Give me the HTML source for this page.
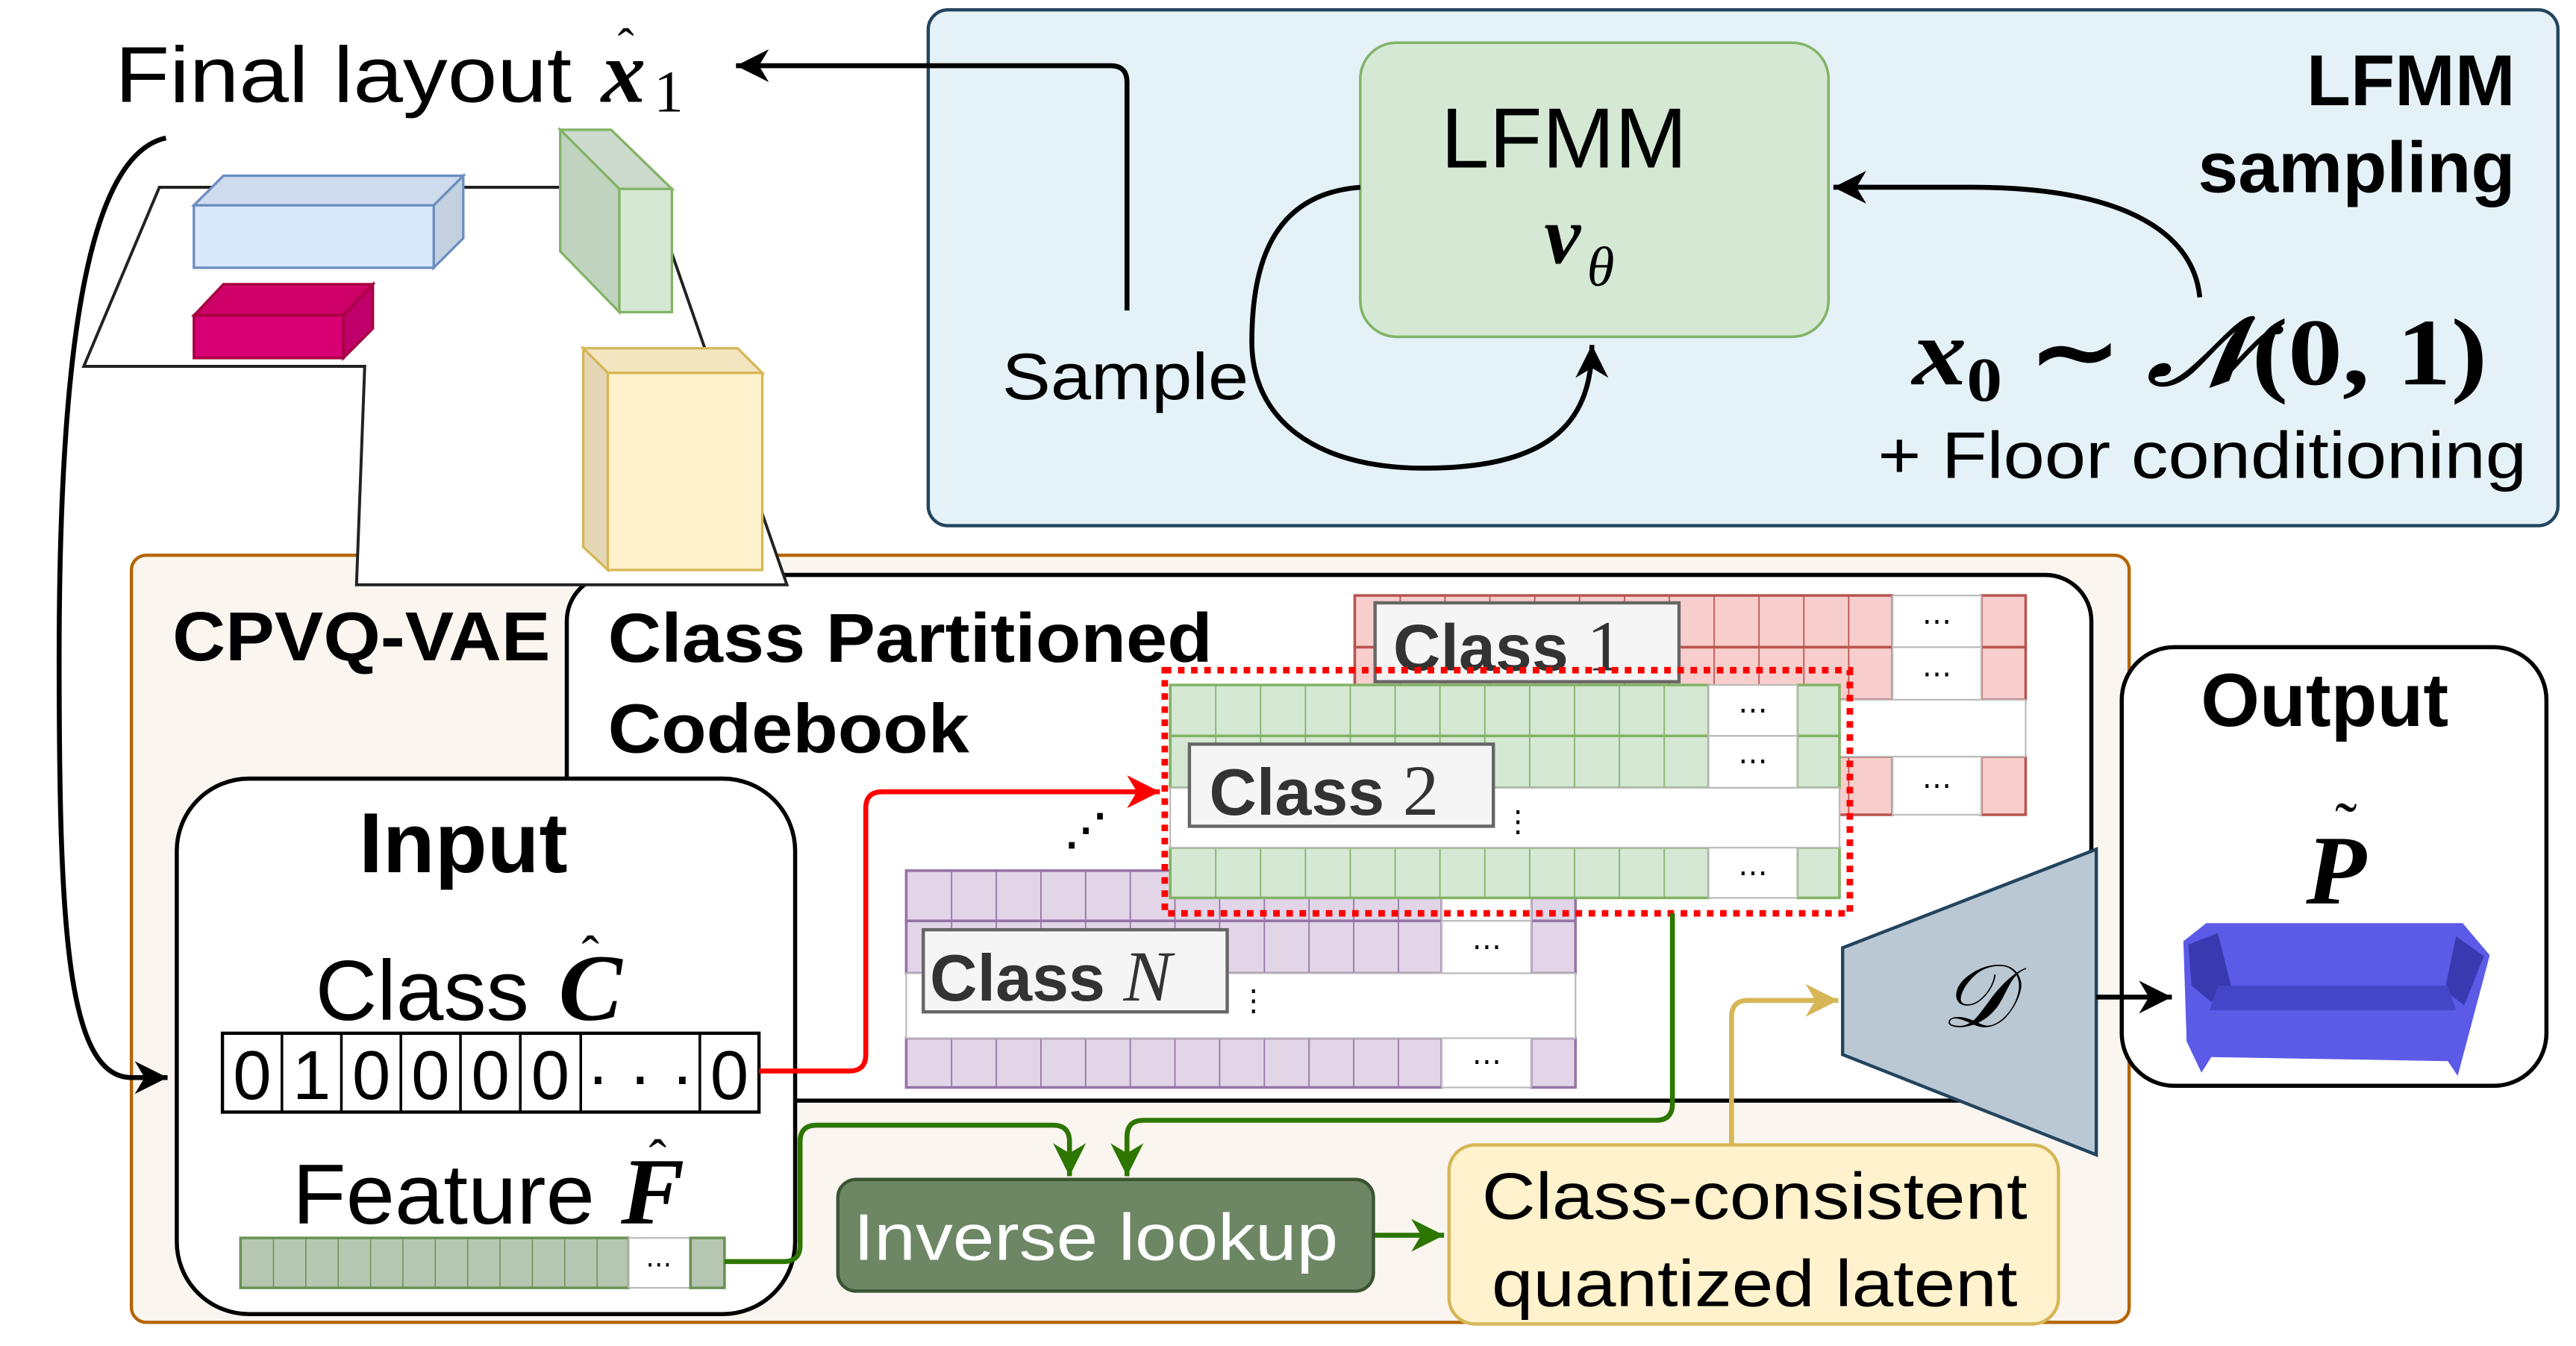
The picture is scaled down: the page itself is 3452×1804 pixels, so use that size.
<!DOCTYPE html>
<html><head><meta charset="utf-8"><style>html,body{margin:0;padding:0;background:#fff}svg{display:block}</style></head>
<body>
<svg width="3452" height="1804" viewBox="0 0 1568 819.4" preserveAspectRatio="none" xmlns="http://www.w3.org/2000/svg" font-family="'Liberation Sans', sans-serif">
<defs>
<marker id="ab" markerUnits="userSpaceOnUse" markerWidth="30" markerHeight="30" refX="20" refY="10" orient="auto"><path d="M0,0 L20,10 L0,20 L6,10 Z" fill="#000"/></marker>
<marker id="ar" markerUnits="userSpaceOnUse" markerWidth="30" markerHeight="30" refX="20" refY="10" orient="auto"><path d="M0,0 L20,10 L0,20 L6,10 Z" fill="#f00"/></marker>
<marker id="ag" markerUnits="userSpaceOnUse" markerWidth="30" markerHeight="30" refX="20" refY="10" orient="auto"><path d="M0,0 L20,10 L0,20 L6,10 Z" fill="#2d7600"/></marker>
<marker id="ay" markerUnits="userSpaceOnUse" markerWidth="30" markerHeight="30" refX="20" refY="10" orient="auto"><path d="M0,0 L20,10 L0,20 L6,10 Z" fill="#d6b656"/></marker>
<pattern id="pr" patternUnits="userSpaceOnUse" x="824.6" y="0" width="27.3" height="200"><rect width="27.3" height="200" fill="#f8cecc"/><line x1="0" y1="0" x2="0" y2="200" stroke="#b85450" stroke-width="1.6"/></pattern>
<pattern id="pg" patternUnits="userSpaceOnUse" x="712.3" y="0" width="27.3" height="200"><rect width="27.3" height="200" fill="#d5e8d4"/><line x1="0" y1="0" x2="0" y2="200" stroke="#82b366" stroke-width="1.6"/></pattern>
<pattern id="pp" patternUnits="userSpaceOnUse" x="551.6" y="0" width="27.2" height="200"><rect width="27.2" height="200" fill="#e1d5e7"/><line x1="0" y1="0" x2="0" y2="200" stroke="#9673a6" stroke-width="1.6"/></pattern>
<pattern id="pf" patternUnits="userSpaceOnUse" x="146.4" y="0" width="19.7" height="200"><rect width="19.7" height="200" fill="#b5c7b1"/><line x1="0" y1="0" x2="0" y2="200" stroke="#6a9153" stroke-width="1.4"/></pattern>
</defs>

<rect x="565" y="6" width="992" height="314" rx="12" fill="#e4f1f6" stroke="#23445d" stroke-width="2"/>
<rect x="828" y="26" width="285" height="179" rx="22" fill="#d5e8d4" stroke="#82b366" stroke-width="1.6"/>
<text x="877" y="102" font-size="52" textLength="150" lengthAdjust="spacingAndGlyphs">LFMM</text>
<text x="940" y="160" font-family="'Liberation Serif', serif" font-size="50" font-style="italic" font-weight="bold">v</text>
<text x="966" y="174" font-family="'Liberation Serif', serif" font-size="34" font-style="italic">θ</text>
<text x="1531" y="64" font-size="44" font-weight="bold" text-anchor="end">LFMM</text>
<text x="1531" y="117" font-size="44" font-weight="bold" text-anchor="end">sampling</text>
<text x="1164" y="234" font-family="'Liberation Serif', serif" font-size="58" font-weight="bold" textLength="350" lengthAdjust="spacingAndGlyphs"><tspan font-style="italic">x</tspan><tspan font-size="38" dy="10">0</tspan><tspan dy="-10"> ∼ </tspan><tspan font-style="italic">𝒩</tspan>(0, 1)</text>
<text x="1143" y="291" font-size="40" textLength="395" lengthAdjust="spacingAndGlyphs">+ Floor conditioning</text>
<text x="610" y="243" font-size="40" textLength="150" lengthAdjust="spacingAndGlyphs">Sample</text>
<path d="M828,114 C775,118 762,160 762,208 C762,255 800,285 867,285 C940,285 969,260 969,210" fill="none" stroke="#000" stroke-width="3" marker-end="url(#ab)"/>
<path d="M1339,181 C1335,140 1290,114 1200,114 L1116,114" fill="none" stroke="#000" stroke-width="3" marker-end="url(#ab)"/>
<path d="M686,189 L686,50 Q686,40 676,40 L448,40" fill="none" stroke="#000" stroke-width="3" marker-end="url(#ab)"/>

<text x="70" y="62" font-size="48" textLength="278" lengthAdjust="spacingAndGlyphs">Final layout</text>
<text x="366" y="62" font-family="'Liberation Serif', serif" font-size="54" font-weight="bold" font-style="italic">x</text>
<text x="376" y="38" font-family="'Liberation Serif', serif" font-size="30">ˆ</text>
<text x="398" y="68" font-family="'Liberation Serif', serif" font-size="36">1</text>

<rect x="80" y="338" width="1216" height="467" rx="9" fill="#faf5ef" stroke="#b46504" stroke-width="2"/>
<text x="105" y="402" font-size="42" font-weight="bold" textLength="230" lengthAdjust="spacingAndGlyphs">CPVQ-VAE</text>

<rect x="345" y="350" width="928" height="320" rx="28" fill="#fff" stroke="#000" stroke-width="2.5"/>
<text x="370" y="403" font-size="42" font-weight="bold" textLength="368" lengthAdjust="spacingAndGlyphs">Class Partitioned</text>
<text x="370" y="458" font-size="42" font-weight="bold" textLength="220" lengthAdjust="spacingAndGlyphs">Codebook</text>

<path d="M101,84 C50,95 36,230 36,400 C36,560 40,656 80,656 L102,656" fill="none" stroke="#000" stroke-width="3" marker-end="url(#ab)"/>

<polygon points="97,114 395,114 479,356 217,356 222,223 51,223" fill="#fff" stroke="#222" stroke-width="1.8"/>
<polygon points="118,125 136,107 282,107 264,125" fill="#cfdcee" stroke="#6c8ebf" stroke-width="1.5"/>
<polygon points="264,125 282,107 282,145 264,163" fill="#c3d0e0" stroke="#6c8ebf" stroke-width="1.5"/>
<rect x="118" y="125" width="146" height="38" fill="#dae8fc" stroke="#6c8ebf" stroke-width="1.5"/>
<polygon points="118,192 136,173 227,173 209,192" fill="#cc0066" stroke="#a50040" stroke-width="1.5"/>
<polygon points="209,192 227,173 227,200 209,218" fill="#c0006a" stroke="#a50040" stroke-width="1.5"/>
<rect x="118" y="192" width="91" height="26" fill="#d80073" stroke="#a50040" stroke-width="1.5"/>
<polygon points="341,79 372,79 409,115 377,115" fill="#cddbcc" stroke="#82b366" stroke-width="1.5"/>
<polygon points="341,79 377,115 377,190 341,153" fill="#c0d3bf" stroke="#82b366" stroke-width="1.5"/>
<rect x="377" y="115" width="32" height="75" fill="#d5e8d4" stroke="#82b366" stroke-width="1.5"/>
<polygon points="355,212 449,212 464,227 370,227" fill="#f2e5c0" stroke="#d6b656" stroke-width="1.5"/>
<polygon points="355,212 370,227 370,347 355,333" fill="#e3d7b5" stroke="#d6b656" stroke-width="1.5"/>
<rect x="370" y="227" width="94" height="120" fill="#fff2cc" stroke="#d6b656" stroke-width="1.5"/>

<g stroke="#b85450" stroke-width="1.6">
<rect x="824.6" y="362.5" width="327.4" height="31.5" fill="url(#pr)"/>
<rect x="824.6" y="394" width="327.4" height="32" fill="url(#pr)"/>
<rect x="824.6" y="460.6" width="327.4" height="35.4" fill="url(#pr)"/>
<rect x="1206" y="362.5" width="27" height="31.5" fill="#f8cecc"/>
<rect x="1206" y="394" width="27" height="32" fill="#f8cecc"/>
<rect x="1206" y="460.6" width="27" height="35.4" fill="#f8cecc"/>
</g>
<g fill="#fff" stroke="#bbb" stroke-width="1">
<rect x="1152" y="362.5" width="54" height="31.5"/><rect x="1152" y="394" width="54" height="32"/><rect x="1152" y="460.6" width="54" height="35.4"/>
<rect x="824.6" y="426" width="408.4" height="34.6"/>
</g>
<g font-size="18" text-anchor="middle"><text x="1179" y="384">⋯</text><text x="1179" y="416">⋯</text><text x="1179" y="484">⋯</text></g>
<rect x="837" y="367" width="185" height="48" fill="#f5f5f5" stroke="#666" stroke-width="2"/>
<text x="848" y="408" font-size="40" font-weight="bold" fill="#333">Class <tspan font-family="'Liberation Serif', serif" font-weight="normal" font-size="44">1</tspan></text>

<g stroke="#9673a6" stroke-width="1.6">
<rect x="551.6" y="530" width="326" height="30.6" fill="url(#pp)"/>
<rect x="551.6" y="560.6" width="326" height="31.9" fill="url(#pp)"/>
<rect x="551.6" y="632" width="326" height="30" fill="url(#pp)"/>
<rect x="932" y="530" width="27" height="30.6" fill="#e1d5e7"/>
<rect x="932" y="560.6" width="27" height="31.9" fill="#e1d5e7"/>
<rect x="932" y="632" width="27" height="30" fill="#e1d5e7"/>
</g>
<g fill="#fff" stroke="#bbb" stroke-width="1">
<rect x="877.6" y="530" width="54.4" height="30.6"/><rect x="877.6" y="560.6" width="54.4" height="31.9"/><rect x="877.6" y="632" width="54.4" height="30"/>
<rect x="551.6" y="592.5" width="407.4" height="39.5"/>
</g>
<g font-size="18" text-anchor="middle"><text x="905" y="582">⋯</text><text x="905" y="652">⋯</text></g>
<rect x="562" y="566" width="185" height="50" fill="#f5f5f5" stroke="#666" stroke-width="2"/>
<text x="566" y="609" font-size="40" font-weight="bold" fill="#333">Class <tspan font-family="'Liberation Serif', serif" font-style="italic" font-weight="normal" font-size="44">N</tspan></text>
<text x="754" y="615" font-size="18">⋮</text>

<g stroke="#82b366" stroke-width="1.6">
<rect x="712.3" y="417" width="327.7" height="31" fill="url(#pg)"/>
<rect x="712.3" y="448" width="327.7" height="31.6" fill="url(#pg)"/>
<rect x="712.3" y="516" width="327.7" height="30.6" fill="url(#pg)"/>
<rect x="1094" y="417" width="25.7" height="31" fill="#d5e8d4"/>
<rect x="1094" y="448" width="25.7" height="31.6" fill="#d5e8d4"/>
<rect x="1094" y="516" width="25.7" height="30.6" fill="#d5e8d4"/>
</g>
<g fill="#fff" stroke="#bbb" stroke-width="1">
<rect x="1040" y="417" width="54" height="31"/><rect x="1040" y="448" width="54" height="31.6"/><rect x="1040" y="516" width="54" height="30.6"/>
<rect x="712.3" y="479.6" width="407.4" height="36.4"/>
</g>
<g font-size="18" text-anchor="middle"><text x="1067" y="438">⋯</text><text x="1067" y="469">⋯</text><text x="1067" y="537">⋯</text></g>
<rect x="724" y="453" width="185" height="50" fill="#f5f5f5" stroke="#666" stroke-width="2"/>
<text x="736" y="496" font-size="40" font-weight="bold" fill="#333">Class <tspan font-family="'Liberation Serif', serif" font-weight="normal" font-size="44">2</tspan></text>
<text x="915" y="506" font-size="18">⋮</text>
<text x="648" y="514" font-size="26" font-weight="bold">⋰</text>
<rect x="709" y="408" width="417" height="148" fill="none" stroke="#f00" stroke-width="4" stroke-dasharray="4,4"/>

<rect x="107.6" y="474" width="376.4" height="326" rx="44" fill="#fff" stroke="#000" stroke-width="2.5"/>
<text x="282" y="531" font-size="52" font-weight="bold" text-anchor="middle">Input</text>
<text x="192" y="621" font-size="52">Class</text>
<text x="340" y="621" font-family="'Liberation Serif', serif" font-size="58" font-weight="bold" font-style="italic">C</text>
<text x="354" y="592" font-family="'Liberation Serif', serif" font-size="32">ˆ</text>
<rect x="135.4" y="629" width="326.6" height="48" fill="#fff" stroke="#000" stroke-width="2"/>
<g stroke="#000" stroke-width="1.6"><line x1="171.6" y1="629" x2="171.6" y2="677"/><line x1="207.8" y1="629" x2="207.8" y2="677"/><line x1="244" y1="629" x2="244" y2="677"/><line x1="280.3" y1="629" x2="280.3" y2="677"/><line x1="316.7" y1="629" x2="316.7" y2="677"/><line x1="353.5" y1="629" x2="353.5" y2="677"/><line x1="426" y1="629" x2="426" y2="677"/></g>
<g font-size="42" text-anchor="middle"><text x="153.5" y="669">0</text><text x="189.7" y="669">1</text><text x="226" y="669">0</text><text x="262" y="669">0</text><text x="298.5" y="669">0</text><text x="335" y="669">0</text><text x="389.7" y="669">· · ·</text><text x="444" y="669">0</text></g>
<text x="178" y="745" font-size="52" textLength="184" lengthAdjust="spacingAndGlyphs">Feature</text>
<text x="378" y="745" font-family="'Liberation Serif', serif" font-size="58" font-weight="bold" font-style="italic">F</text>
<text x="395" y="716" font-family="'Liberation Serif', serif" font-size="32">ˆ</text>
<rect x="146.4" y="753.6" width="236.3" height="30.4" fill="url(#pf)" stroke="#6a9153" stroke-width="1.6"/>
<rect x="382.7" y="753.6" width="37.6" height="30.4" fill="#fff" stroke="#bbb" stroke-width="1"/>
<rect x="420.3" y="753.6" width="20.7" height="30.4" fill="#b5c7b1" stroke="#6a9153" stroke-width="1.6"/>
<text x="401" y="775" font-size="16" text-anchor="middle">⋯</text>

<path d="M462,652 L517,652 Q527,652 527,642 L527,492 Q527,482 537,482 L706,482" fill="none" stroke="#f00" stroke-width="3" marker-end="url(#ar)"/>
<path d="M441,768 L477,768 Q487,768 487,758 L487,695 Q487,685 497,685 L641,685 Q651,685 651,695 L651,716" fill="none" stroke="#2d7600" stroke-width="3" marker-end="url(#ag)"/>
<path d="M1018,556 L1018,672 Q1018,682 1008,682 L696,682 Q686,682 686,692 L686,716" fill="none" stroke="#2d7600" stroke-width="3" marker-end="url(#ag)"/>
<path d="M1054,697 L1054,619 Q1054,609 1064,609 L1119,609" fill="none" stroke="#d6b656" stroke-width="3" marker-end="url(#ay)"/>
<path d="M836,752 L879,752" fill="none" stroke="#2d7600" stroke-width="3" marker-end="url(#ag)"/>

<rect x="510" y="718" width="326" height="68" rx="11" fill="#6d8764" stroke="#3a5431" stroke-width="2"/>
<text x="667" y="767" font-size="40" fill="#fff" text-anchor="middle" textLength="295" lengthAdjust="spacingAndGlyphs">Inverse lookup</text>
<rect x="882" y="697" width="371" height="109" rx="16" fill="#fff2cc" stroke="#d6b656" stroke-width="2"/>
<text x="1068" y="742" font-size="40" text-anchor="middle" textLength="332" lengthAdjust="spacingAndGlyphs">Class-consistent</text>
<text x="1068" y="795" font-size="40" text-anchor="middle" textLength="320" lengthAdjust="spacingAndGlyphs">quantized latent</text>

<polygon points="1121.6,577 1276,517 1276,703 1121.6,642" fill="#bac8d3" stroke="#23445d" stroke-width="2"/>
<text x="1203" y="625" font-family="'Liberation Serif', serif" font-size="54" font-style="italic" text-anchor="middle">𝒟</text>

<rect x="1291.5" y="394" width="258.5" height="267" rx="32" fill="#fff" stroke="#000" stroke-width="2.5"/>
<text x="1415" y="442" font-size="46" font-weight="bold" text-anchor="middle">Output</text>
<text x="1422" y="550" font-family="'Liberation Serif', serif" font-size="60" font-style="italic" font-weight="bold" text-anchor="middle">P</text>
<text x="1428" y="516" font-family="'Liberation Serif', serif" font-size="40" text-anchor="middle">˜</text>
<polygon points="1329,573 1343,562 1499,562 1515.5,581.5 1496,655 1490,646 1346,643.5 1340,653 1331,634" fill="#5b5be8"/>
<polygon points="1332,575 1350,568 1358,600 1346,610 1334,600" fill="#3a3ab0"/>
<polygon points="1495,570 1512,582 1500,612 1488,603" fill="#3a3ab0"/>
<polygon points="1350,600 1490,600 1495,615 1345,615" fill="#4545c8"/>
<path d="M1276,607 L1322,607" fill="none" stroke="#000" stroke-width="3" marker-end="url(#ab)"/>
</svg>
</body></html>
